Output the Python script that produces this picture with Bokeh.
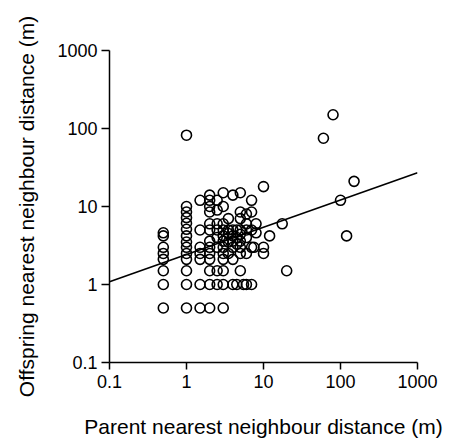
import numpy as np
from bokeh.plotting import figure
from bokeh.models import Range1d, FixedTicker, CustomJSTickFormatter, ColumnDataSource
from bokeh.embed import file_html
from bokeh.resources import INLINE

# ---- data ----
parent_dist = [
    0.5, 0.5, 0.5, 0.5, 0.5, 0.5, 0.5, 0.5,
    1, 1, 1, 1, 1, 1, 1, 1, 1, 1, 1, 1, 1, 1,
    1.5, 1.5, 1.5, 1.5, 1.5, 1.5, 1.5,
    2, 2, 2, 2, 2, 2, 2, 2, 2, 2, 2, 2, 2,
    2.5, 2.5, 2.5, 2.5, 2.5, 2.5, 2.5, 2.5,
    3, 3, 3, 3, 3, 3, 3, 3, 3, 3, 3, 3,
    3.5, 3.5, 3.5, 3.5, 3.5,
    4, 4, 4, 4, 4, 4, 4,
    4.5, 4.5, 4.5, 4.5,
    5, 5, 5, 5, 5, 5, 5, 5, 5,
    5.5,
    6, 6, 6, 6, 6, 6,
    7, 7, 7, 7, 7,
    7.5,
    8, 8,
    10, 10, 10,
    12, 17.5, 20, 60, 80, 100, 120, 150,
]
offspring_dist = [
    4.6, 4.2, 3.0, 2.5, 2.1, 1.5, 1.0, 0.5,
    82, 10, 8.5, 7.2, 6.1, 5.1, 4.2, 3.5, 3.0, 2.5, 2.1, 1.5, 1.0, 0.5,
    12, 5.0, 3.0, 2.5, 2.1, 1.0, 0.5,
    14, 12, 10, 8.5, 6.0, 5.0, 3.6, 3.0, 2.5, 2.1, 1.5, 1.0, 0.5,
    12, 9.0, 6.0, 5.0, 4.0, 3.0, 1.5, 1.0,
    15, 10, 6.0, 5.0, 4.2, 3.6, 3.0, 2.5, 2.1, 1.5, 1.0, 0.5,
    7.0, 5.0, 4.5, 3.5, 2.5,
    14, 5.0, 4.2, 3.6, 3.0, 2.1, 1.0,
    5.0, 4.0, 3.3, 1.0,
    15, 8.5, 7.0, 5.0, 4.4, 3.6, 3.0, 2.5, 1.5,
    1.0,
    8.0, 6.0, 5.0, 4.0, 2.5, 1.0,
    12, 8.5, 5.0, 3.0, 1.0,
    3.0,
    6.0, 4.6,
    18, 3.0, 2.5,
    4.2, 6.0, 1.5, 75, 150, 12, 4.2, 21,
]
# regression in log-log space: log10(y) = a + b*log10(x)
fit_intercept = 0.384
fit_slope = 0.35
axis_limits = [0.1, 1000]
tick_values = [0.1, 1, 10, 100, 1000]
x_label = "Parent nearest neighbour distance (m)"
y_label = "Offspring nearest neighbour distance (m)"

FONT = "Liberation Sans"

src = ColumnDataSource(dict(parent=parent_dist, offspring=offspring_dist))

p = figure(frame_width=308, frame_height=312, x_axis_type="log", y_axis_type="log",
           x_range=Range1d(*axis_limits), y_range=Range1d(*axis_limits),
           output_backend="svg", toolbar_location=None,
           min_border_left=109, min_border_right=29,
           min_border_top=50, min_border_bottom=60,
           background_fill_color="white", border_fill_color="white")
p.xgrid.visible = False
p.ygrid.visible = False
p.outline_line_color = None

fmt = CustomJSTickFormatter(code="return tick >= 1 ? tick.toFixed(0) : tick.toString();")

xa = p.xaxis[0]
xa.major_tick_out = 7
xa.major_label_standoff = 5

ya = p.yaxis[0]
ya.major_tick_out = 8
ya.major_label_standoff = 4

for ax in (xa, ya):
    ax.ticker = FixedTicker(ticks=tick_values, minor_ticks=[])
    ax.formatter = fmt
    ax.major_tick_in = 0
    ax.minor_tick_line_color = None
    ax.axis_line_width = 1.5
    ax.axis_line_color = "black"
    ax.major_tick_line_width = 1.5
    ax.major_tick_line_color = "black"
    ax.major_label_text_font = FONT
    ax.major_label_text_font_size = "18px"
    ax.major_label_text_color = "black"
    ax.axis_label_text_font = FONT
    ax.axis_label_text_font_size = "21px"
    ax.axis_label_text_font_style = "normal"
    ax.axis_label_text_color = "black"

xa.axis_label = x_label
ya.axis_label = y_label
xa.axis_label_standoff = 24
ya.axis_label_standoff = 16

fit_x = np.array(axis_limits, dtype=float)
fit_y = 10 ** (fit_intercept + fit_slope * np.log10(fit_x))
p.line(fit_x, fit_y, line_color="black", line_width=1.6)

p.scatter("parent", "offspring", source=src, marker="circle", size=10,
          fill_color=None, line_color="black", line_width=1.6)

open("out.html", "w").write(file_html(p, INLINE))
